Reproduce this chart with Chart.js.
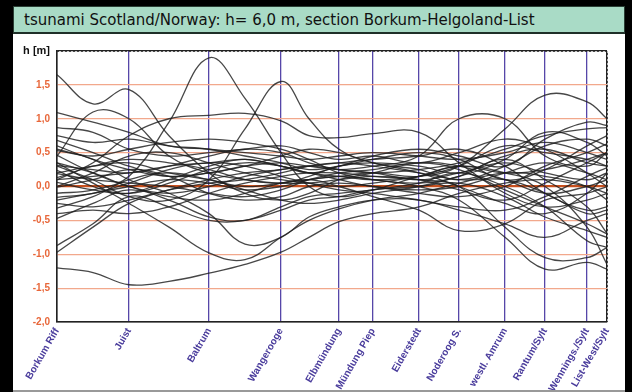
<!DOCTYPE html>
<html>
<head>
<meta charset="utf-8">
<script src="https://cdn.jsdelivr.net/npm/chart.js@4/dist/chart.umd.min.js"></script>
<style>
    body { margin: 0; background: #000; width: 632px; height: 392px; overflow: hidden; position: relative; }
    #frame { position: absolute; left: 13px; top: 6px; width: 612px; height: 384px; background: #fff; }
    #title {
        height: 25px; background: #a9dbc6; border: 1px solid #2b3f35; border-bottom: 2px solid #1f2f28;
        font: 15px "DejaVu Sans", sans-serif; line-height: 26px; padding-left: 10px; color: #111;
    }
    #plot { position: absolute; left: 0; top: 29px; width: 612px; height: 355px; }
    #foot { position: absolute; left: 13px; top: 390px; width: 612px; height: 2px; background: #999; }
</style>
</head>
<body>
<div id="frame">
    <div id="title">tsunami Scotland/Norway: h= 6,0 m, section Borkum-Helgoland-List</div>
    <div id="plot"><canvas id="chart"></canvas></div>
</div>
<div id="foot"></div>
<script>
// stations along the section (distance, roughly km)
const stationNames = ["Borkum Riff", "Juist", "Baltrum", "Wangerooge", "Elbmündung", "Mündung Piep",
    "Eiderstedt", "Noderoog S.", "westl. Amrum", "Rantum/Sylt", "Wennings./Sylt", "List-West/Sylt"];
const stationKm = [0, 36, 76, 112, 141, 158, 181, 201, 224, 244, 265, 275];

const samplePos = [0, 18, 36, 56, 76, 94, 112, 126, 141, 158, 181, 201, 224, 244, 265, 275];

// water level h [m] of each run at samplePos
const run01 = [-0.1, -0.05, 0.15, 0.95, 1.9, 1.3, 0.5, 0.0, -0.15, -0.05, 0.15, 0.3, 0.2, 0.25, 0.4, 0.5];
const run02 = [0.3, 0.1, -0.15, -0.2, 0.1, 0.85, 1.55, 1.0, 0.55, 0.35, 0.25, 0.1, 0.3, 0.6, 0.7, 0.6];
const run03 = [1.65, 1.22, 1.43, 0.75, 0.2, -0.1, -0.2, -0.1, 0.1, 0.2, 0.35, 0.3, 0.1, -0.1, 0.0, 0.1];
const run04 = [0.45, 1.1, 1.0, 0.45, 0.2, 0.1, 0.05, 0.15, 0.3, 0.35, 0.3, 0.2, 0.45, 0.55, 0.35, 0.3];
const run05 = [0.1, 0.35, 0.75, 1.0, 1.05, 1.08, 0.97, 0.75, 0.72, 0.78, 0.8, 0.35, -0.1, -0.3, -0.2, -0.1];
const run06 = [-1.2, -1.27, -1.45, -1.4, -1.28, -1.15, -0.97, -0.75, -0.52, -0.4, -0.3, -0.1, 0.05, 0.1, 0.0, -0.1];
const run07 = [0.35, 0.05, -0.25, -0.6, -0.98, -1.08, -0.75, -0.5, -0.33, -0.2, -0.1, 0.05, 0.2, 0.15, 0.0, -0.2];
const run08 = [-0.97, -0.6, -0.25, -0.05, 0.1, 0.2, 0.25, 0.3, 0.25, 0.2, 0.1, 0.2, 0.35, 0.2, 0.1, 0.2];
const run09 = [-0.87, -0.55, -0.15, -0.3, -0.5, -0.5, -0.35, -0.2, -0.15, -0.05, 0.0, 0.05, -0.15, -0.45, -0.65, -0.75];
const run10 = [0.55, 0.4, 0.1, -0.1, -0.4, -0.85, -0.75, -0.45, -0.3, -0.2, -0.2, -0.35, -0.55, -0.75, -0.5, -0.4];
const run11 = [0.2, 0.3, 0.35, 0.2, 0.1, 0.0, 0.05, 0.1, 0.15, 0.1, 0.0, -0.2, -0.75, -1.22, -1.12, -1.22];
const run12 = [-0.4, -0.35, -0.4, -0.3, -0.1, 0.05, 0.15, 0.2, 0.2, 0.15, 0.1, 0.0, -0.6, -1.05, -1.05, -0.9];
const run13 = [0.35, 0.2, 0.0, -0.15, -0.2, -0.1, 0.05, 0.1, 0.0, -0.15, -0.35, -0.65, -0.55, -0.2, -0.1, 0.0];
const run14 = [0.0, 0.2, 0.45, 0.5, 0.35, 0.2, 0.1, 0.05, 0.0, 0.05, 0.15, 0.3, 0.2, 0.0, -0.6, -1.15];
const run15 = [-0.2, -0.1, 0.0, 0.1, 0.05, -0.05, 0.0, 0.1, 0.15, 0.2, 0.15, 0.3, 0.85, 1.35, 1.25, 1.0];
const run16 = [0.6, 0.4, 0.25, 0.15, 0.2, 0.3, 0.35, 0.3, 0.25, 0.3, 0.45, 1.0, 1.0, 0.45, 0.3, 0.5];
const run17 = [0.1, 0.15, 0.2, 0.3, 0.35, 0.4, 0.3, 0.2, 0.3, 0.45, 0.55, 0.45, 0.3, 0.7, 0.95, 0.9];
const run18 = [0.87, 0.8, 0.55, 0.45, 0.5, 0.55, 0.6, 0.5, 0.4, 0.45, 0.35, 0.5, 0.7, 0.55, 0.2, 0.0];
const run19 = [0.75, 0.65, 0.7, 0.6, 0.55, 0.45, 0.35, 0.25, 0.3, 0.4, 0.5, 0.4, 0.1, 0.25, 0.6, 0.75];
const run20 = [0.68, 0.5, 0.3, 0.15, 0.2, 0.3, 0.45, 0.55, 0.5, 0.35, 0.2, 0.0, -0.25, -0.4, -0.1, 0.2];
const run21 = [0.53, 0.45, 0.55, 0.65, 0.7, 0.65, 0.55, 0.4, 0.2, 0.1, 0.05, 0.15, 0.4, 0.8, 0.65, 0.45];
const run22 = [0.46, 0.2, 0.0, -0.1, 0.0, 0.15, 0.25, 0.3, 0.35, 0.4, 0.45, 0.55, 0.3, -0.1, -0.35, -0.3];
const run23 = [0.31, 0.25, 0.2, 0.3, 0.45, 0.55, 0.5, 0.35, 0.25, 0.2, 0.25, 0.35, 0.55, 0.75, 0.85, 0.87];
const run24 = [0.24, 0.0, -0.1, 0.05, 0.25, 0.35, 0.3, 0.2, 0.1, 0.0, -0.05, 0.0, 0.2, 0.35, 0.2, 0.1];
const run25 = [0.19, 0.1, 0.05, 0.0, -0.1, -0.15, -0.05, 0.1, 0.2, 0.25, 0.35, 0.25, -0.05, -0.3, -0.55, -0.7];
const run26 = [0.13, 0.3, 0.4, 0.35, 0.25, 0.1, 0.05, 0.05, 0.1, 0.15, 0.1, -0.05, -0.2, 0.05, 0.35, 0.5];
const run27 = [0.06, -0.05, -0.1, 0.1, 0.3, 0.4, 0.3, 0.2, 0.15, 0.1, 0.15, 0.3, 0.6, 0.5, 0.4, 0.3];
const run28 = [-0.01, 0.1, 0.25, 0.15, -0.1, -0.2, -0.15, 0.0, 0.05, 0.0, -0.1, -0.15, 0.0, 0.3, 0.5, 0.63];
const run29 = [-0.16, -0.1, 0.05, 0.25, 0.35, 0.3, 0.15, 0.05, -0.05, -0.1, -0.2, -0.3, -0.35, -0.15, 0.15, 0.28];
const run30 = [-0.25, -0.3, -0.2, -0.05, 0.05, 0.1, 0.2, 0.3, 0.35, 0.3, 0.2, 0.1, 0.1, -0.1, -0.4, -0.35];
const run31 = [-0.32, -0.15, 0.1, 0.2, 0.1, -0.05, -0.2, -0.25, -0.2, -0.1, 0.0, 0.15, 0.4, 0.1, -0.3, -0.69];
const run32 = [-0.47, -0.25, -0.05, -0.2, -0.45, -0.5, -0.3, -0.15, -0.1, -0.05, 0.05, 0.2, 0.0, -0.3, -0.8, -0.9];
const run33 = [1.09, 0.95, 0.8, 0.6, 0.55, 0.5, 0.45, 0.4, 0.45, 0.5, 0.45, 0.4, 0.5, 0.65, 0.5, 0.4];

const runs = [run01, run02, run03, run04, run05, run06, run07, run08, run09, run10, run11,
    run12, run13, run14, run15, run16, run17, run18, run19, run20, run21, run22, run23,
    run24, run25, run26, run27, run28, run29, run30, run31, run32, run33];

const yTicks = [-2, -1.5, -1, -0.5, 0, 0.5, 1, 1.5, 2];

const datasets = runs.map((vals, i) => ({
    label: "run " + (i + 1),
    data: samplePos.map((x, j) => ({ x: x, y: vals[j] })),
    borderColor: "rgba(30,30,30,0.82)",
    borderWidth: 1.3,
    pointRadius: 0,
    tension: 0.4,
    fill: false,
}));

// dotted top/right frame of the plot area
const frameLines = {
    id: "frameLines",
    afterDatasetsDraw(chart) {
        const a = chart.chartArea;
        const ctx = chart.ctx;
        ctx.save();
        ctx.strokeStyle = "#222";
        ctx.lineWidth = 1.5;
        ctx.setLineDash([2, 2]);
        ctx.beginPath();
        ctx.moveTo(a.left, a.top);
        ctx.lineTo(a.right, a.top);
        ctx.lineTo(a.right, a.bottom);
        ctx.stroke();
        ctx.restore();
    }
};

const ctx = document.getElementById("chart").getContext("2d");
new Chart(ctx, {
    type: "line",
    data: { datasets: datasets },
    options: {
        responsive: true,
        maintainAspectRatio: false,
        animation: false,
        layout: { padding: { top: 16, right: 18, left: 0, bottom: 0 } },
        plugins: { legend: { display: false }, tooltip: { enabled: false } },
        scales: {
            x: {
                type: "linear",
                min: stationKm[0],
                max: stationKm[stationKm.length - 1],
                afterBuildTicks(scale) {
                    scale.ticks = stationKm.map(v => ({ value: v }));
                },
                afterFit(scale) { scale.height = 68; },
                grid: {
                    color: (c) => (c.index === 0 || c.index === stationKm.length - 1) ? "#222" : "#5646a8",
                    lineWidth: 1.3,
                    drawTicks: false,
                },
                border: { color: "#222", width: 1.5 },
                ticks: {
                    autoSkip: false,
                    minRotation: 60,
                    maxRotation: 60,
                    padding: 4,
                    color: "#4a3c9c",
                    font: { family: "Liberation Sans", size: 10, weight: "bold" },
                    callback: (value) => stationNames[stationKm.indexOf(value)],
                },
            },
            y: {
                min: -2,
                max: 2,
                afterBuildTicks(scale) {
                    scale.ticks = yTicks.map(v => ({ value: v }));
                },
                afterFit(scale) { scale.width = 44; },
                grid: {
                    color: (c) => c.tick.value === 0 ? "#c8501e" : (Math.abs(c.tick.value) === 2 ? "#222" : "#f2a88c"),
                    lineWidth: (c) => c.tick.value === 0 ? 2.2 : 1.2,
                    drawTicks: false,
                },
                border: { color: "#222", width: 1.5 },
                ticks: {
                    padding: 7,
                    color: (c) => c.tick.value === 2 ? "#111" : "#e8673a",
                    font: (c) => ({ family: "Liberation Sans", size: c.tick && c.tick.value === 2 ? 11 : 10, weight: "bold" }),
                    callback: (value) => value === 2 ? "h [m]" : value.toFixed(1).replace(".", ","),
                },
            },
        },
    },
    plugins: [frameLines],
});
</script>
</body>
</html>
